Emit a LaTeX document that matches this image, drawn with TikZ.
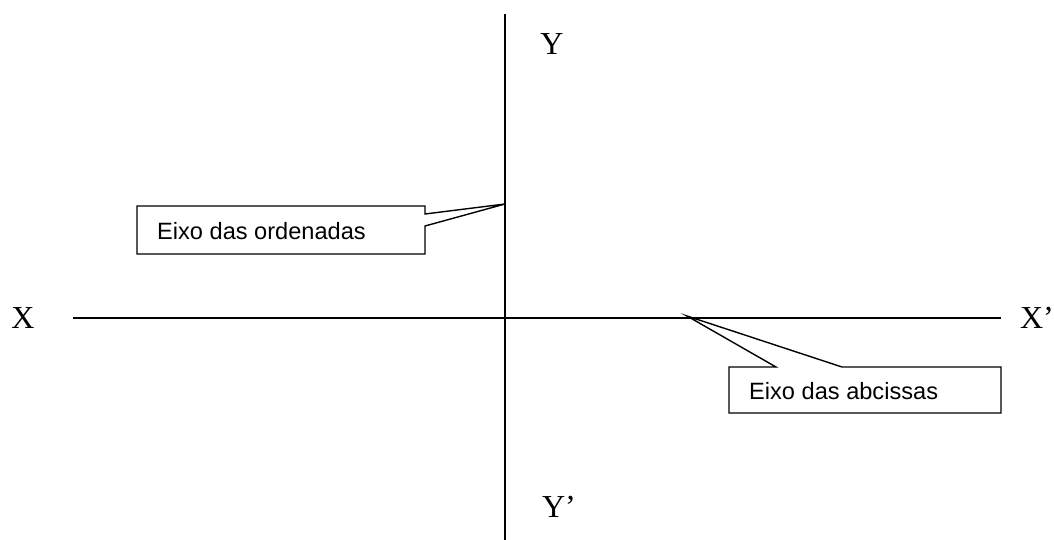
\documentclass[tikz,border=0pt]{standalone}
\usepackage{fontspec}
\setmainfont{Liberation Serif}
\newfontfamily\calloutfont{Liberation Sans}
\begin{document}
\begin{tikzpicture}[x=1pt,y=-1pt,
  axis/.style={line width=1.6pt},
  callout/.style={line width=1.4pt,fill=white,line join=miter},
  axlabel/.style={font=\fontsize{32}{32}\selectfont,inner sep=0pt},
  calltext/.style={font=\calloutfont\fontsize{23.6}{23.6}\selectfont,inner sep=0pt,anchor=west}]
\useasboundingbox (0,0) rectangle (1054,540);
% axes
\coordinate (xl) at (73,318);
\coordinate (xr) at (1001,318);
\coordinate (yt) at (505,14);
\coordinate (yb) at (505,541);
\draw[axis] (xl) -- (xr);
\draw[axis] (yt) -- (yb);
% axis labels
\node[axlabel] (X) at (23,318) {X};
\node[axlabel] (Xp) at (1037,318) {X’};
\node[axlabel] (Y) at (552,44) {Y};
\node[axlabel] (Yp) at (559,507) {Y’};
% callout: ordenadas
\coordinate (t1) at (505,204);
\draw[callout] (137,206) -- (425,206) -- (425,214) -- (t1) -- (425,226) -- (425,254) -- (137,254) -- cycle;
\node[calltext] (ord) at (157,231) {Eixo das ordenadas};
% callout: abcissas
\coordinate (t2) at (687,316);
\draw[callout] (729,367) -- (776,367) -- (t2) -- (842,367) -- (1001,367) -- (1001,413) -- (729,413) -- cycle;
\node[calltext] (abc) at (749,391) {Eixo das abcissas};
\end{tikzpicture}
\end{document}
